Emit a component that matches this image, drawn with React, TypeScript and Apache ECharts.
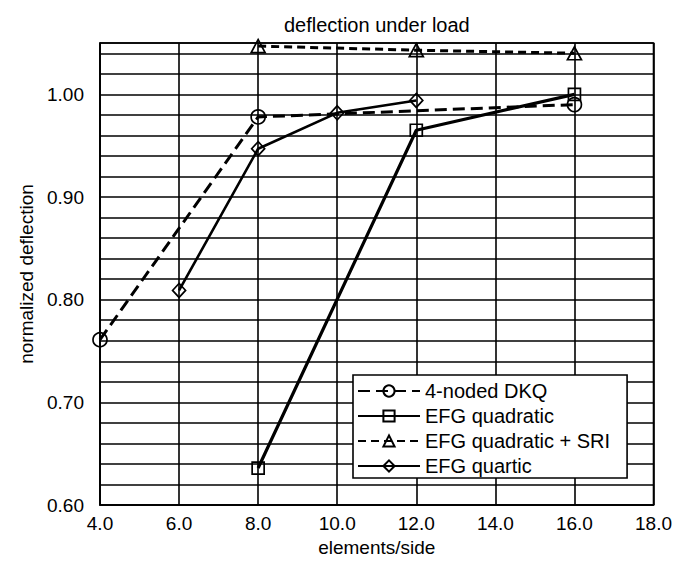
import React, { useEffect, useRef } from "react";
import * as echarts from "echarts";

const titleText = "deflection under load";
const xName = "elements/side";
const yName = "normalized deflection";

const dkqX = [4, 8, 16];
const dkqY = [0.761, 0.978, 0.99];
const quadX = [8, 12, 16];
const quadY = [0.636, 0.965, 1.0];
const sriX = [8, 12, 16];
const sriY = [1.047, 1.043, 1.04];
const quartX = [6, 8, 10, 12];
const quartY = [0.809, 0.947, 0.982, 0.994];

const seriesNames = ["4-noded DKQ", "EFG quadratic", "EFG quadratic + SRI", "EFG quartic"];

const FONT = "'Liberation Sans', Arial, Helvetica, sans-serif";

function pairs(xs: number[], ys: number[]) {
  return xs.map((x, i) => [x, ys[i]]);
}

export default function App() {
  const ref = useRef<HTMLDivElement>(null);
  useEffect(() => {
    if (!ref.current) return;
    const chart = echarts.init(ref.current, undefined, { renderer: "svg" });
    const hollow = { color: "rgba(0,0,0,0)", borderColor: "#000", borderWidth: 1.7 };
    chart.setOption({
      animation: false,
      backgroundColor: "#fff",
      textStyle: { fontFamily: FONT, color: "#000" },
      title: {
        text: titleText,
        left: 279,
        top: 10,
        textStyle: { fontFamily: FONT, fontSize: 20, fontWeight: "normal", color: "#000" },
      },
      grid: {
        left: 100,
        top: 43,
        right: 21,
        bottom: 57,
        show: true,
        borderColor: "#000",
        borderWidth: 1.6,
        backgroundColor: "transparent",
      },
      legend: {
        orient: "vertical",
        left: 353,
        top: 375,
        padding: [6, 17, 2, 4],
        itemWidth: 62,
        itemHeight: 14,
        itemGap: 5,
        backgroundColor: "#fff",
        borderColor: "#000",
        borderWidth: 1.6,
        textStyle: { fontFamily: FONT, fontSize: 20, color: "#000", padding: [0, 0, 0, 0] },
        data: seriesNames,
      },
      xAxis: {
        type: "value",
        min: 4,
        max: 18,
        interval: 2,
        name: xName,
        nameLocation: "middle",
        nameGap: 32,
        nameTextStyle: { fontFamily: FONT, fontSize: 19, color: "#000" },
        axisLine: { show: true, lineStyle: { color: "#000", width: 1.6 } },
        axisTick: { show: false },
        axisLabel: {
          fontFamily: FONT,
          fontSize: 19,
          color: "#000",
          margin: 9,
          formatter: (v: number) => v.toFixed(1),
        },
        splitLine: { show: true, lineStyle: { color: "#000", width: 1.6 } },
      },
      yAxis: {
        type: "value",
        min: 0.6,
        max: 1.05,
        interval: 0.02,
        name: yName,
        nameLocation: "middle",
        nameGap: 61,
        nameTextStyle: { fontFamily: FONT, fontSize: 19, color: "#000" },
        axisLine: { show: true, lineStyle: { color: "#000", width: 1.6 } },
        axisTick: { show: false },
        axisLabel: {
          fontFamily: FONT,
          fontSize: 19,
          color: "#000",
          margin: 16,
          formatter: (v: number) => {
            const r = Math.round(v * 100);
            return r % 10 === 0 ? (r / 100).toFixed(2) : "";
          },
        },
        splitLine: { show: true, lineStyle: { color: "#000", width: 1.6 } },
      },
      series: [
        {
          name: seriesNames[0],
          type: "line",
          data: pairs(dkqX, dkqY),
          symbol: "circle",
          symbolSize: 14,
          itemStyle: hollow,
          lineStyle: { color: "#000", width: 3, type: [12, 6] },
        },
        {
          name: seriesNames[1],
          type: "line",
          data: pairs(quadX, quadY),
          symbol: "rect",
          symbolSize: 12,
          itemStyle: hollow,
          lineStyle: { color: "#000", width: 3.2, type: "solid" },
        },
        {
          name: seriesNames[2],
          type: "line",
          data: pairs(sriX, sriY),
          symbol: "triangle",
          symbolSize: [14, 13],
          itemStyle: hollow,
          lineStyle: { color: "#000", width: 3, type: [8, 5] },
        },
        {
          name: seriesNames[3],
          type: "line",
          data: pairs(quartX, quartY),
          symbol: "diamond",
          symbolSize: [13, 14],
          itemStyle: hollow,
          lineStyle: { color: "#000", width: 2.6, type: "solid" },
        },
      ],
    });
    return () => chart.dispose();
  }, []);
  return (
    <div
      ref={ref}
      style={{ position: "fixed", left: 0, top: 0, width: 675, height: 562, background: "#fff" }}
    />
  );
}
